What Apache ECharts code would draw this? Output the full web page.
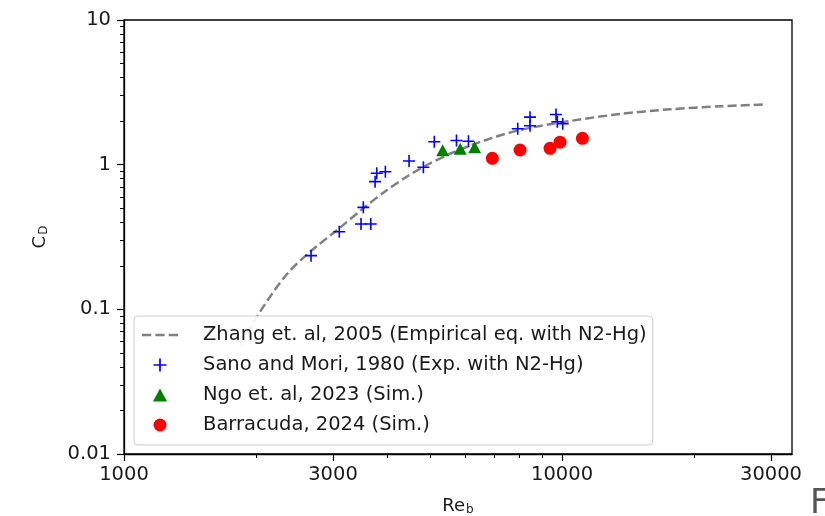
<!DOCTYPE html>
<html>
<head>
<meta charset="utf-8">
<script src="https://cdn.jsdelivr.net/npm/echarts@6/dist/echarts.min.js"></script>
<style>
  html, body { margin: 0; padding: 0; background: #fff; }
  #chart { width: 825px; height: 516px; }
</style>
</head>
<body>
<div id="chart"></div>
<script>
// ---- data ----
const zhangCurve = [
  [1840, 0.0567], [2044, 0.0963], [2356, 0.1755], [2673, 0.2531], [3097, 0.362],
  [3513, 0.4977], [3944, 0.6524], [4427, 0.8284], [4918, 0.9947], [5638, 1.2138],
  [6600, 1.458], [8020, 1.737], [10430, 2.004], [13567, 2.240], [17640, 2.414],
  [22950, 2.532], [29080, 2.606]
];
const sanoMori = [
  [2673, 0.235], [3101, 0.344], [3519, 0.507], [3476, 0.389], [3659, 0.389],
  [3743, 0.763], [3776, 0.872], [3951, 0.894], [4475, 1.06], [4825, 0.96],
  [5110, 1.44], [5742, 1.47], [6115, 1.45], [7923, 1.77], [8452, 2.13],
  [8452, 1.86], [9689, 2.22], [9757, 1.98], [10038, 1.92]
];
const ngo = [[5340, 1.26], [5856, 1.29], [6318, 1.32]];
const barracuda = [[6933, 1.107], [8020, 1.263], [9389, 1.298], [9895, 1.43], [11130, 1.52]];

const seriesNames = [
  'Zhang et. al, 2005 (Empirical eq. with N2-Hg)',
  'Sano and Mori, 1980 (Exp. with N2-Hg)',
  'Ngo et. al, 2023 (Sim.)',
  'Barracuda, 2024 (Sim.)'
];

const xMajorTicks = [1000, 3000, 10000, 30000];
const xMinorTicks = [2000, 4000, 5000, 6000, 7000, 8000, 9000, 20000];
const yMajorTicks = [0.01, 0.1, 1, 10];
const yMinorTicks = [0.02, 0.03, 0.04, 0.05, 0.06, 0.07, 0.08, 0.09,
                     0.2, 0.3, 0.4, 0.5, 0.6, 0.7, 0.8, 0.9,
                     2, 3, 4, 5, 6, 7, 8, 9];

const xRange = [1000, 33500];
const yRange = [0.01, 10];

// ---- chart ----
const FONT = 'DejaVu Sans';
const FS = 19.5;
const plusPath = 'path://M0,5.2H12V6.8H0ZM5.2,0H6.8V12H5.2Z';
const triPath = 'path://M0,12L6.5,0L13,12Z';
const dashPath = 'path://M0,5H9V7.6H0ZM13,5H22V7.6H13ZM26,5H35V7.6H26Z';
const fmt = v => String(+Number(v).toPrecision(6));

const chart = echarts.init(document.getElementById('chart'), null, { renderer: 'canvas' });

function makeAxes(isX) {
  const range = isX ? xRange : yRange;
  const major = isX ? xMajorTicks : yMajorTicks;
  const minor = isX ? xMinorTicks : yMinorTicks;
  const base = {
    type: 'log', logBase: 10, min: range[0], max: range[1],
    position: isX ? 'bottom' : 'left',
    splitLine: { show: false }, minorTick: { show: false }, minorSplitLine: { show: false }
  };
  const a0 = Object.assign({}, base, {
    axisLine: { show: true, lineStyle: { color: '#000', width: 1.3 } },
    axisTick: { show: true, inside: false, customValues: major, length: 7, lineStyle: { color: '#000', width: 1.2 } },
    axisLabel: { show: true, customValues: major, formatter: fmt, margin: isX ? 11 : 13,
                 color: '#1a1a1a', fontFamily: FONT, fontSize: FS },
    nameLocation: 'middle',
    name: isX ? '{a|Re}{b|b}' : '{a|C}{b|D}',
    nameGap: isX ? 42 : 74,
    nameTextStyle: {
      rich: {
        a: { fontFamily: FONT, fontSize: 18, color: '#1a1a1a' },
        b: { fontFamily: FONT, fontSize: 12, color: '#1a1a1a', padding: [8, 0, 0, 1] }
      }
    }
  });
  const a1 = Object.assign({}, base, {
    axisLine: { show: false },
    axisTick: { show: true, inside: false, customValues: minor, length: 4, lineStyle: { color: '#000', width: 1 } },
    axisLabel: { show: false }
  });
  return [a0, a1];
}

const option = {
  animation: false,
  backgroundColor: '#fff',
  grid: { left: 124, top: 20, width: 668, height: 434, containLabel: false, outerBoundsMode: 'none',
          show: true, borderColor: '#000', borderWidth: 1.3, backgroundColor: 'transparent' },
  xAxis: makeAxes(true),
  yAxis: makeAxes(false),
  legend: {
    orient: 'vertical', left: 134, top: 316,
    padding: [9, 6, 10, 8],
    itemWidth: 36, itemHeight: 13, itemGap: 10,
    backgroundColor: 'rgba(255,255,255,0.9)',
    borderColor: '#cccccc', borderWidth: 1, borderRadius: 4,
    textStyle: { fontFamily: FONT, fontSize: FS, color: '#1a1a1a', lineHeight: 20, padding: [0, 0, 0, 20] },
    data: [
      { name: seriesNames[0], icon: dashPath },
      { name: seriesNames[1], icon: plusPath },
      { name: seriesNames[2], icon: triPath },
      { name: seriesNames[3], icon: 'circle' }
    ]
  },
  series: [
    {
      name: seriesNames[0], type: 'line', xAxisIndex: 0, yAxisIndex: 0,
      data: zhangCurve, smooth: 0.3, symbol: 'none',
      lineStyle: { color: '#808080', width: 2.5, type: [9, 4] },
      itemStyle: { color: '#808080' }, z: 2
    },
    {
      name: seriesNames[1], type: 'scatter', xAxisIndex: 0, yAxisIndex: 0,
      data: sanoMori, symbol: plusPath, symbolSize: 12,
      itemStyle: { color: '#0000ff', opacity: 1 }, z: 3
    },
    {
      name: seriesNames[2], type: 'scatter', xAxisIndex: 0, yAxisIndex: 0,
      data: ngo, symbol: 'triangle', symbolSize: [13, 12],
      itemStyle: { color: '#008000', opacity: 1 }, z: 4
    },
    {
      name: seriesNames[3], type: 'scatter', xAxisIndex: 0, yAxisIndex: 0,
      data: barracuda, symbol: 'circle', symbolSize: 13,
      itemStyle: { color: '#ff0000', opacity: 1 }, z: 5
    }
  ],
  graphic: [
    { type: 'text', left: 810, top: 487, style: { text: 'Fig', fontFamily: FONT, fontSize: 34, fill: '#555' } }
  ]
};

chart.setOption(option);
</script>
</body>
</html>
